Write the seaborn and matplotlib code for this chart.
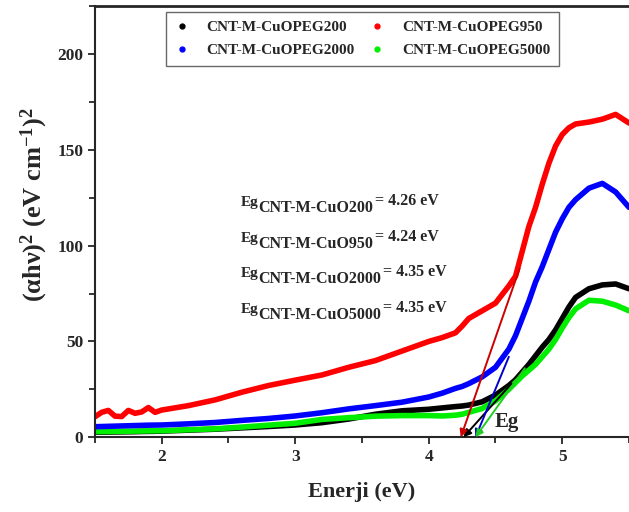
import pandas as pd
import seaborn as sns
import matplotlib.pyplot as plt
from matplotlib.lines import Line2D
from matplotlib.ticker import MultipleLocator

# photon energy (eV)
energy = [1.5, 1.55, 1.6, 1.65, 1.7, 1.75, 1.8, 1.85, 1.9, 1.95, 2.0,
          2.2, 2.4, 2.6, 2.8, 3.0, 3.2, 3.4, 3.6, 3.8, 4.0,
          4.1, 4.2, 4.25, 4.3, 4.4, 4.5, 4.6, 4.65, 4.7, 4.75, 4.8, 4.85,
          4.9, 4.95, 5.0, 5.05, 5.1, 5.2, 5.3, 5.4, 5.5]

# (alpha h nu)^2 for each sample
peg200 = [2.6, 2.65, 2.7, 2.75, 2.8, 2.85, 2.9, 3.0, 3.05, 3.1, 3.2,
          3.7, 4.2, 4.9, 5.6, 6.4, 7.6, 9.5, 12.0, 13.8, 14.6,
          15.3, 16.0, 16.3, 16.8, 18.5, 22.0, 27.0, 30.0, 34.0, 38.0, 42.5, 47.0,
          51.0, 56.0, 62.0, 68.0, 73.0, 77.5, 79.5, 80.0, 77.5]
peg950 = [10.7, 13.0, 14.0, 11.0, 10.8, 14.0, 12.5, 13.2, 15.5, 13.0, 14.2,
          16.5, 19.5, 23.5, 27.0, 29.8, 32.5, 36.5, 40.0, 45.0, 50.0,
          52.0, 54.5, 58.0, 62.0, 66.0, 70.0, 79.0, 84.0, 97.0, 110.0, 120.0, 132.0,
          143.0, 152.0, 158.0, 161.5, 163.5, 164.5, 166.0, 168.5, 164.0]
peg2000 = [5.5, 5.6, 5.7, 5.8, 5.9, 6.0, 6.1, 6.2, 6.3, 6.35, 6.4,
           7.0, 7.7, 8.8, 9.8, 11.1, 12.8, 14.8, 16.5, 18.3, 21.0,
           23.0, 25.5, 26.5, 28.0, 31.5, 36.5, 46.0, 53.0, 62.0, 71.0, 81.0, 89.0,
           98.0, 107.0, 114.0, 120.0, 124.0, 130.0, 132.5, 128.0, 120.0]
peg5000 = [2.9, 2.95, 3.0, 3.05, 3.1, 3.15, 3.2, 3.25, 3.3, 3.35, 3.4,
           3.9, 4.4, 5.3, 6.3, 7.3, 9.3, 10.2, 11.0, 11.3, 11.3,
           11.1, 11.5, 12.0, 13.0, 15.0, 19.0, 25.0, 28.5, 32.0, 35.0, 38.0, 42.0,
           46.0, 51.0, 57.0, 62.5, 67.0, 71.5, 71.0, 69.0, 66.0]

samples = ['CNT-M-CuOPEG200', 'CNT-M-CuOPEG950', 'CNT-M-CuOPEG2000', 'CNT-M-CuOPEG5000']
colors = ['#000000', '#ff0000', '#0000ff', '#00ee00']
tangent_colors = ['#000000', '#cc0000', '#0000cc', '#22cc22']

# band gap labels and tangent lines (intercept = Eg)
eg_names = ['CNT-M-CuO200', 'CNT-M-CuO950', 'CNT-M-CuO2000', 'CNT-M-CuO5000']
eg_values = [4.26, 4.24, 4.35, 4.35]
tangent_top_x = [4.62, 4.68, 4.60, 4.72]
tangent_top_y = [28, 88, 42, 36]

sns.set_style('ticks')
plt.rcParams['font.family'] = ['Liberation Serif', 'DejaVu Serif']
plt.rcParams['font.weight'] = 'bold'
plt.rcParams['mathtext.fontset'] = 'custom'
plt.rcParams['mathtext.rm'] = 'Liberation Serif:bold'
plt.rcParams['mathtext.it'] = 'Liberation Serif:bold'
plt.rcParams['mathtext.bf'] = 'Liberation Serif:bold'

df = pd.DataFrame({
    'energy': energy * 4,
    'value': peg200 + peg950 + peg2000 + peg5000,
    'sample': [s for s in samples for _ in energy],
})

fig = plt.figure(figsize=(6.29, 5.12), dpi=100)
ax = fig.add_axes([0.151, 0.146, 0.849, 0.842])

palette = dict(zip(samples, colors))
draw_order = ['CNT-M-CuOPEG200', 'CNT-M-CuOPEG5000', 'CNT-M-CuOPEG2000', 'CNT-M-CuOPEG950']
sns.lineplot(data=df, x='energy', y='value', hue='sample', hue_order=draw_order,
             palette=palette, linewidth=4, estimator=None, sort=False, legend=False, ax=ax)

# tangent lines with arrows down to the energy axis
for x0, y0, eg, c in zip(tangent_top_x, tangent_top_y, eg_values, tangent_colors):
    ax.annotate('', xy=(eg, 0), xytext=(x0, y0),
                arrowprops=dict(arrowstyle='-|>', color=c, lw=1.4, mutation_scale=11,
                                shrinkA=0, shrinkB=0), zorder=5)

ax.text(4.49, 5.5, 'Eg', fontsize=15, fontweight='bold')

# Eg labels
label_y = [120.5, 102, 83.5, 65]
for name, val, y in zip(eg_names, eg_values, label_y):
    t1 = ax.text(2.59, y, 'Eg', fontsize=11, fontweight='bold')
    t2 = ax.annotate(name, xy=(1, 0), xycoords=t1, xytext=(0, -5),
                     textcoords='offset points', va='bottom', fontsize=11.5, fontweight='bold')
    ax.annotate('= %.2f eV' % val, xy=(1, 0), xycoords=(t2, t1), xytext=(1, 0),
                textcoords='offset points', va='bottom', fontsize=11.5, fontweight='bold')

ax.set_xlim(1.5, 5.5)
ax.set_ylim(0, 225)
ax.xaxis.set_major_locator(MultipleLocator(1))
ax.xaxis.set_minor_locator(MultipleLocator(0.5))
ax.yaxis.set_major_locator(MultipleLocator(50))
ax.yaxis.set_minor_locator(MultipleLocator(25))
ax.tick_params(which='major', direction='out', length=5, width=1.3, labelsize=12.5)
ax.tick_params(which='minor', direction='out', length=4, width=1.3)
for lab in ax.get_xticklabels() + ax.get_yticklabels():
    lab.set_fontweight('bold')

ax.spines['right'].set_visible(False)
ax.spines['left'].set_linewidth(1.5)
ax.spines['bottom'].set_linewidth(1.5)
ax.spines['top'].set_linewidth(2)

ax.set_xlabel('Enerji (eV)', fontsize=16, fontweight='bold', labelpad=12)
ax.set_ylabel('(αhν)$^{2}$ (eV cm$^{-1}$)$^{2}$', fontsize=19, fontweight='bold')
ax.yaxis.set_label_coords(-0.085, 0.54)

legend_order = [0, 2, 1, 3]
handles = [Line2D([], [], ls='', marker='o', markersize=3.5, color=colors[i]) for i in legend_order]
labels = [samples[i] for i in legend_order]
leg = ax.legend(handles, labels, ncol=2, loc='upper right', bbox_to_anchor=(0.868, 0.986),
                borderaxespad=0, fontsize=11, frameon=True, fancybox=False, edgecolor='#444444',
                handlelength=1.0, handletextpad=1.1, columnspacing=1.0,
                borderpad=0.55, labelspacing=0.6)
leg.get_frame().set_linewidth(1.0)
for txt in leg.get_texts():
    txt.set_fontweight('bold')

fig.savefig('out.png', dpi=100)
